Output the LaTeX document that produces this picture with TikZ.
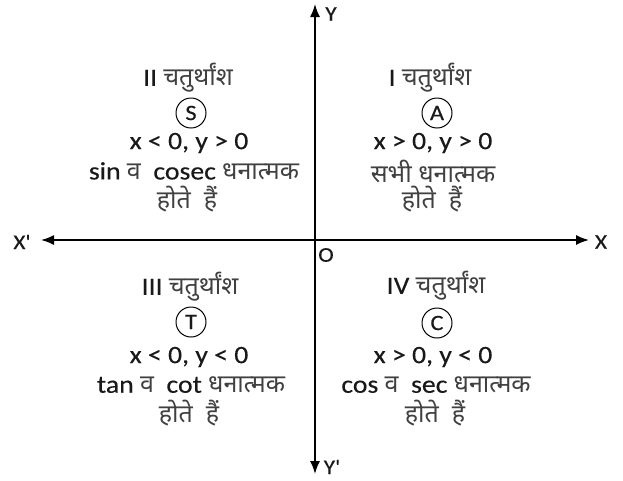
\documentclass[tikz,border=0pt]{standalone}
\usepackage{fontspec}
\setmainfont{Carlito}[FakeStretch=1.11,FakeBold=0.3]
\newfontfamily\lblfont{Carlito}[Ligatures=TeXOff,FakeStretch=1.11,FakeBold=0.3]
\newfontfamily\dev[Script=Devanagari]{Noto Sans}
\usetikzlibrary{arrows.meta}
\tikzset{
  axisline/.style={line width=1.6pt,{Latex[length=13pt,width=10pt]}-{Latex[length=13pt,width=10pt]}},
  lbl/.style={inner sep=0pt,font=\lblfont\fontsize{21}{25}\selectfont,text=black!90},
  txt/.style={inner sep=0pt,font=\fontsize{25}{30}\selectfont,text=black!90},
  letter/.style={circle,draw,line width=1pt,minimum size=30pt,inner sep=0pt,font=\fontsize{22}{26}\selectfont,text=black!90},
}
\newcommand{\dv}[1]{{\dev\fontsize{25}{30}\selectfont\color{black!75}#1}}
\begin{document}
\begin{tikzpicture}[x=1pt,y=-1pt]
\useasboundingbox (0,0) rectangle (623,480);
\fill[white] (0,0) rectangle (623,480);
% axes
\coordinate (yt) at (315,4);
\coordinate (yb) at (315,474);
\coordinate (xl) at (41,240);
\coordinate (xr) at (589,240);
\draw[axisline] (yb) -- (yt);
\draw[axisline] (xl) -- (xr);
\node[lbl] (Y) at (331,14) {Y};
\node[lbl] (Yp) at (332,467) {Y'};
\node[lbl] (Xp) at (22,242) {X'};
\node[lbl] (X) at (601,242) {X};
\node[lbl] (O) at (326,255) {O};
% quadrant II
\node[txt] (q2a) at (188,78) {II \dv{चतुर्थांश}};
\node[letter] (q2b) at (191,113) {S};
\node[txt] (q2c) at (189,143) {x < 0, y > 0};
\node[txt] (q2d) at (194,171) {sin \dv{व} \ cosec \dv{धनात्मक}};
\node[txt] (q2e) at (187,199) {\dv{होते \ हैं}};
% quadrant I
\node[txt] (q1a) at (430,78) {I \dv{चतुर्थांश}};
\node[letter] (q1b) at (437,113) {A};
\node[txt] (q1c) at (433,143) {x > 0, y > 0};
\node[txt] (q1d) at (433,171) {\dv{सभी धनात्मक}};
\node[txt] (q1e) at (432,199) {\dv{होते \ हैं}};
% quadrant III
\node[txt] (q3a) at (190,287) {III \dv{चतुर्थांश}};
\node[letter] (q3b) at (191,322) {T};
\node[txt] (q3c) at (189,357) {x < 0, y < 0};
\node[txt] (q3d) at (191,385) {tan \dv{व} \ cot \dv{धनात्मक}};
\node[txt] (q3e) at (189,413) {\dv{होते \ हैं}};
% quadrant IV
\node[txt] (q4a) at (436,286) {IV \dv{चतुर्थांश}};
\node[letter] (q4b) at (437,323) {C};
\node[txt] (q4c) at (433,357) {x > 0, y < 0};
\node[txt] (q4d) at (436,385) {cos \dv{व} \ sec \dv{धनात्मक}};
\node[txt] (q4e) at (435,413) {\dv{होते \ हैं}};
\end{tikzpicture}
\end{document}
